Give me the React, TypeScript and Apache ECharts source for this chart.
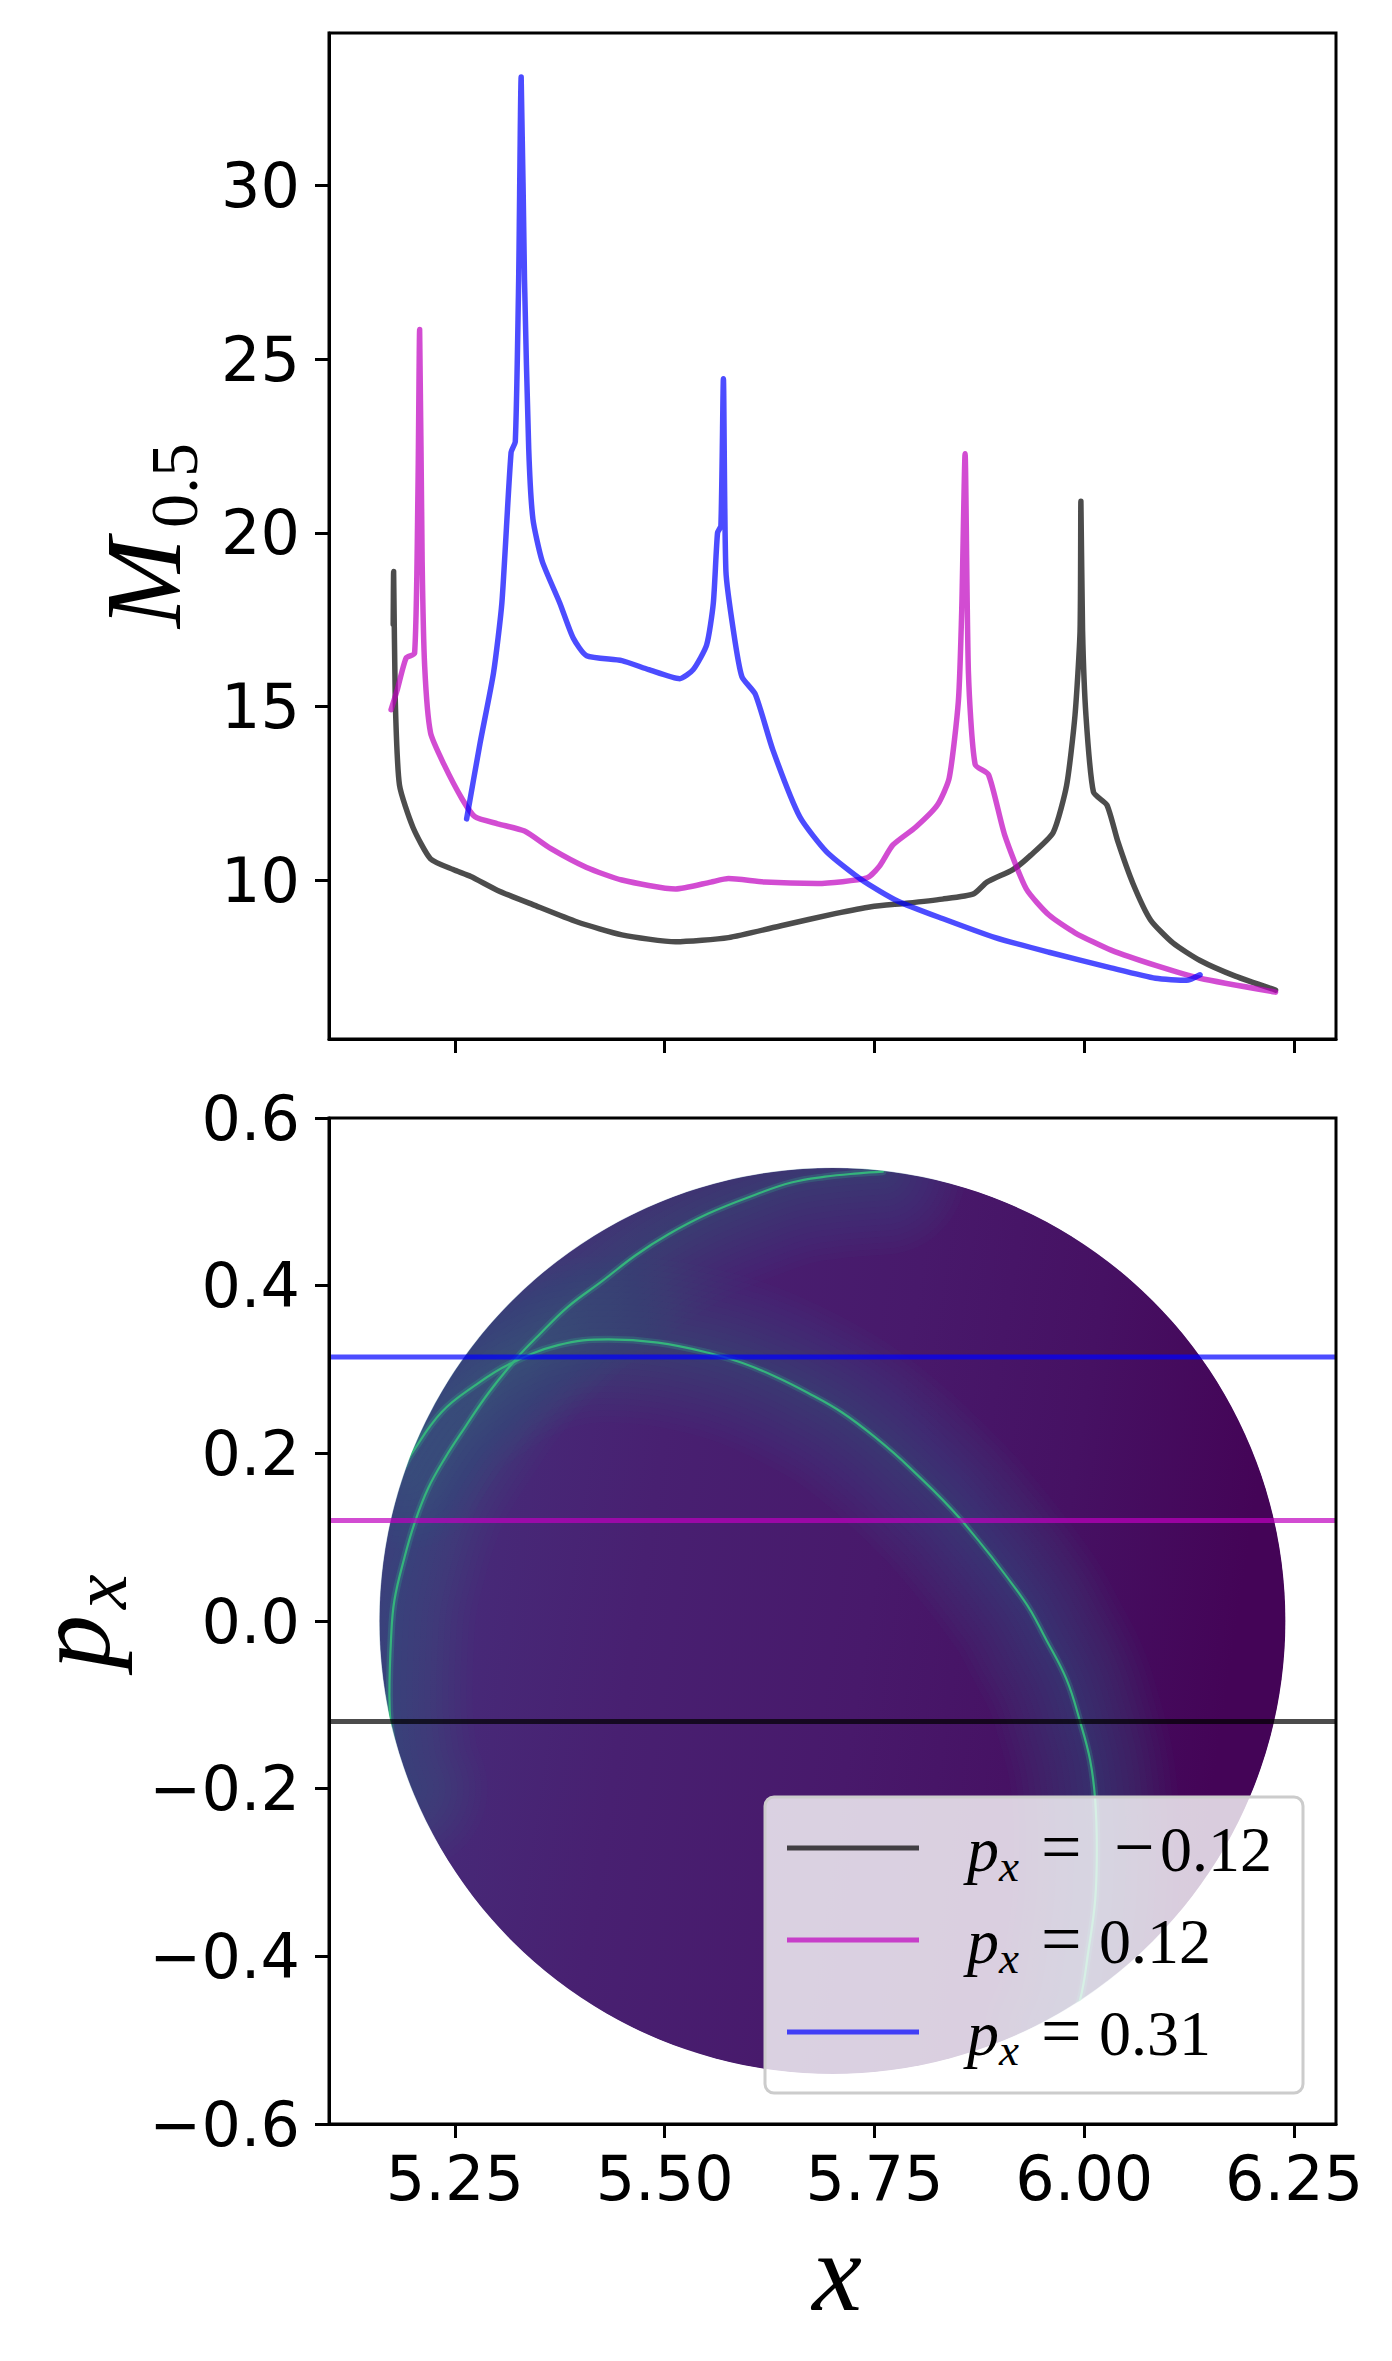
import React, { useEffect, useRef } from 'react';
import * as echarts from 'echarts';

const W = 1392;
const H = 2361;

// ---------- axes ----------
const xRange = [5.1, 6.3];
const topYRange = [5.42, 34.4];
const bottomYRange = [-0.6, 0.6];
const xTicks = [5.25, 5.5, 5.75, 6.0, 6.25];
const topYTicks = [10, 15, 20, 25, 30];
const bottomYTicks = [-0.6, -0.4, -0.2, 0.0, 0.2, 0.4, 0.6];

// ---------- top panel: M_0.5 along x for three p_x cuts ----------
const curveBlack = [
  [5.1765, 17.37], [5.177, 18.89], [5.179, 15.15], [5.184, 12.73], [5.2, 11.52], [5.221, 10.61],
  [5.248, 10.3], [5.269, 10.1], [5.301, 9.7], [5.343, 9.29], [5.396, 8.79], [5.449, 8.42],
  [5.513, 8.22], [5.576, 8.34], [5.64, 8.69], [5.703, 9.03], [5.746, 9.23], [5.788, 9.33],
  [5.831, 9.45], [5.868, 9.6], [5.884, 9.94], [5.915, 10.3], [5.936, 10.71], [5.963, 11.37],
  [5.979, 12.73], [5.989, 14.75], [5.995, 17.17], [5.996, 20.91], [5.998, 17.17], [6.002, 14.75],
  [6.011, 12.53], [6.027, 12.16], [6.04, 11.11], [6.058, 9.9], [6.079, 8.85], [6.106, 8.18],
  [6.138, 7.68], [6.18, 7.23], [6.228, 6.83],
];
const curveMagenta = [
  [5.174, 14.91], [5.181, 15.45], [5.192, 16.4], [5.202, 16.53], [5.206, 21.21], [5.208, 25.86],
  [5.211, 19.19], [5.214, 16.16], [5.221, 14.24], [5.237, 13.33], [5.259, 12.32], [5.274, 11.82],
  [5.301, 11.62], [5.333, 11.41], [5.364, 10.91], [5.407, 10.36], [5.449, 10.0], [5.513, 9.74],
  [5.555, 9.94], [5.576, 10.04], [5.619, 9.94], [5.682, 9.9], [5.741, 10.06], [5.756, 10.4],
  [5.772, 11.01], [5.799, 11.52], [5.825, 12.16], [5.839, 12.93], [5.85, 15.15], [5.854, 17.78],
  [5.858, 22.28], [5.862, 15.96], [5.87, 13.33], [5.886, 13.03], [5.905, 11.31], [5.931, 9.74],
  [5.958, 8.99], [5.989, 8.48], [6.032, 7.98], [6.085, 7.54], [6.138, 7.17], [6.228, 6.77],
];
const curveBlue = [
  [5.264, 11.76], [5.28, 13.94], [5.296, 15.96], [5.306, 17.98], [5.317, 22.32], [5.322, 22.63],
  [5.326, 27.27], [5.329, 33.13], [5.333, 27.27], [5.338, 22.42], [5.343, 20.4], [5.354, 19.19],
  [5.375, 17.98], [5.391, 16.97], [5.407, 16.46], [5.449, 16.32], [5.481, 16.06], [5.518, 15.8],
  [5.534, 16.06], [5.55, 16.77], [5.558, 17.98], [5.563, 20.0], [5.567, 20.2], [5.57, 24.44],
  [5.573, 18.89], [5.582, 17.17], [5.592, 15.86], [5.608, 15.35], [5.629, 13.74], [5.661, 11.82],
  [5.693, 10.81], [5.735, 10.0], [5.778, 9.39], [5.831, 8.89], [5.894, 8.34], [5.958, 7.92],
  [6.032, 7.47], [6.085, 7.17], [6.122, 7.11], [6.138, 7.27],
];

// ---------- bottom panel ----------
const pxLevels = [-0.12, 0.12, 0.315];
const legendLabels = ['−0.12', '0.12', '0.31'];
const seriesNames = ['p_x = -0.12', 'p_x = 0.12', 'p_x = 0.31'];
const lineColors = ['rgba(0,0,0,0.7)', 'rgba(191,0,191,0.7)', 'rgba(0,0,255,0.7)'];

// disc: centre x, centre p_x, radius
const disc = [5.7, 0.0, 0.54];

// bright caustic arcs
const causticA = [
  [5.19, -0.2], [5.178, -0.162], [5.172, -0.089], [5.174, -0.02], [5.178, 0.025], [5.19, 0.076],
  [5.202, 0.117], [5.218, 0.158], [5.238, 0.194], [5.262, 0.231], [5.29, 0.272], [5.325, 0.315],
  [5.349, 0.34], [5.385, 0.375], [5.425, 0.405], [5.465, 0.436], [5.504, 0.461], [5.552, 0.486],
  [5.604, 0.507], [5.651, 0.523], [5.691, 0.53], [5.731, 0.534], [5.76, 0.536],
];
const causticB = [
  [5.19, 0.185], [5.198, 0.199], [5.234, 0.249], [5.274, 0.281], [5.314, 0.306], [5.373, 0.329],
  [5.433, 0.336], [5.492, 0.332], [5.552, 0.32], [5.592, 0.308], [5.631, 0.292], [5.671, 0.272],
  [5.711, 0.249], [5.751, 0.219], [5.792, 0.183], [5.853, 0.121], [5.928, 0.025], [5.955, -0.023],
  [5.979, -0.07], [5.995, -0.12], [6.007, -0.166], [6.013, -0.213], [6.015, -0.273], [6.013, -0.333],
  [6.005, -0.393], [5.995, -0.452], [5.98, -0.49],
];

const mathFont = '"Liberation Serif", "DejaVu Serif", serif';
const tickFont = 'DejaVu Sans';

function mtext(text: string, x: number, baseline: number, size: number, italic: boolean, align = 'left') {
  return {
    type: 'text',
    x,
    y: baseline - 0.3375 * size,
    z: 100,
    silent: true,
    style: {
      text,
      font: `${italic ? 'italic ' : ''}${size}px ${mathFont}`,
      fill: '#000',
      textAlign: align,
      align,
      textVerticalAlign: 'middle',
      verticalAlign: 'middle',
    },
  };
}

function buildOption() {
  const axisCommon = {
    type: 'value',
    z: 50,
    axisLine: { show: true, onZero: false, lineStyle: { color: '#000', width: 3 } },
    splitLine: { show: false },
  };
  const tickStyle = { show: true, length: 14, inside: false, lineStyle: { color: '#000', width: 3 } };
  const labelStyle = { color: '#000', fontSize: 62, fontFamily: tickFont };

  const series: any[] = [];

  // top curves
  [curveBlack, curveMagenta, curveBlue].forEach((c, i) => {
    series.push({
      type: 'line',
      name: 'top ' + seriesNames[i],
      xAxisIndex: 0,
      yAxisIndex: 0,
      data: c,
      symbol: 'none',
      smooth: 0.2,
      silent: true,
      z: 3 + i,
      lineStyle: { width: 5.5, color: lineColors[i], join: 'round', cap: 'round' },
    });
  });

  // disc
  series.push({
    type: 'custom',
    name: 'disc',
    xAxisIndex: 1,
    yAxisIndex: 1,
    silent: true,
    z: 1,
    data: [disc],
    renderItem: (params: any, api: any) => {
      const c = api.coord([api.value(0), api.value(1)]);
      const s = api.size([api.value(2), api.value(2)]);
      const r = (s[0] + s[1]) / 2;
      return {
        type: 'circle',
        shape: { cx: c[0], cy: c[1], r },
        style: {
          fill: new echarts.graphic.LinearGradient(0, 0, 1, 0.15, [
            { offset: 0, color: '#46327e' },
            { offset: 0.35, color: '#482071' },
            { offset: 0.6, color: '#48196b' },
            { offset: 0.8, color: '#461163' },
            { offset: 1, color: '#440457' },
          ]),
        },
      };
    },
  });

  // soft glows around caustics (many thin-alpha layers)
  const glowWidths = [166, 154, 142, 130, 118, 106, 94, 82, 70, 58, 46, 34, 22, 12];
  [causticA, causticB].forEach((arc, k) => {
    glowWidths.forEach((w, j) => {
      series.push({
        type: 'line',
        name: `glow${k}_${j}`,
        xAxisIndex: 1,
        yAxisIndex: 1,
        data: arc,
        symbol: 'none',
        smooth: 0.4,
        silent: true,
        z: 2,
        lineStyle: { width: w, color: 'rgba(52,110,150,0.036)', cap: 'round', join: 'round' },
      });
    });
    series.push({
      type: 'line',
      name: `halo${k}`,
      xAxisIndex: 1,
      yAxisIndex: 1,
      data: arc,
      symbol: 'none',
      smooth: 0.4,
      silent: true,
      z: 3,
      lineStyle: { width: 7, color: 'rgba(50,190,140,0.22)', cap: 'round', join: 'round' },
    });
    series.push({
      type: 'line',
      name: `caustic${k}`,
      xAxisIndex: 1,
      yAxisIndex: 1,
      data: arc,
      symbol: 'none',
      smooth: 0.4,
      silent: true,
      z: 3,
      lineStyle: { width: 2.2, color: '#35b47c', cap: 'round', join: 'round' },
    });
  });

  // white mask outside the disc (keyhole polygon), reaching past the plot frame
  series.push({
    type: 'custom',
    name: 'mask',
    xAxisIndex: 1,
    yAxisIndex: 1,
    silent: true,
    z: 4,
    data: [disc],
    renderItem: (params: any, api: any) => {
      const c = api.coord([api.value(0), api.value(1)]);
      const s = api.size([api.value(2), api.value(2)]);
      const r = (s[0] + s[1]) / 2 + 0.4;
      const tl = api.coord([xRange[0], bottomYRange[1]]);
      const br = api.coord([xRange[1], bottomYRange[0]]);
      const pad = 90;
      const x0 = tl[0] - pad, y0 = tl[1] - pad, x1 = br[0] + pad, y1 = br[1] + pad;
      const pts: number[][] = [[x1, y0], [x1, y1], [x0, y1], [x0, y0], [x1, y0]];
      const start = -Math.PI / 4;
      const n = 400;
      for (let k = 0; k <= n; k++) {
        const t = start - (k * 2 * Math.PI) / n;
        pts.push([c[0] + r * Math.cos(t), c[1] + r * Math.sin(t)]);
      }
      return { type: 'polygon', shape: { points: pts }, style: { fill: '#ffffff' } };
    },
  });

  // horizontal cuts
  pxLevels.forEach((lvl, i) => {
    series.push({
      type: 'line',
      name: seriesNames[i],
      xAxisIndex: 1,
      yAxisIndex: 1,
      data: [[xRange[0], lvl], [xRange[1], lvl]],
      symbol: 'none',
      silent: true,
      z: 6,
      lineStyle: { width: 5, color: lineColors[i] },
    });
  });

  // graphic: frames, axis titles, legend
  const elements: any[] = [];
  const frames = [
    { x: 329, y: 33, width: 1007, height: 1006 },
    { x: 329, y: 1118, width: 1007, height: 1006 },
  ];
  frames.forEach((f) => {
    elements.push({
      type: 'rect',
      z: 100,
      silent: true,
      shape: f,
      style: { fill: 'none', stroke: '#000', lineWidth: 3 },
    });
  });

  // y title top: M_{0.5}
  elements.push({
    type: 'group',
    x: 180,
    y: 628,
    rotation: Math.PI / 2,
    z: 100,
    children: [
      mtext('M', 0, 0, 108, true),
      mtext('0.5', 100, 17, 68, false),
    ],
  });
  // y title bottom: p_x
  elements.push({
    type: 'group',
    x: 109,
    y: 1669,
    rotation: Math.PI / 2,
    z: 100,
    children: [
      mtext('p', 0, 0, 108, true),
      mtext('x', 60, 17, 78, true),
    ],
  });
  // x title
  elements.push(mtext('x', 837, 2310, 112, true, 'center'));

  // legend
  elements.push({
    type: 'rect',
    z: 100,
    silent: true,
    shape: { x: 765, y: 1797, width: 538, height: 296, r: 9 },
    style: { fill: 'rgba(255,255,255,0.8)', stroke: '#cccccc', lineWidth: 3 },
  });
  legendLabels.forEach((lab, i) => {
    const cy = 1848 + 92 * i;
    const yb = 1871 + 92 * i;
    elements.push({
      type: 'line',
      z: 101,
      silent: true,
      shape: { x1: 787, y1: cy, x2: 919, y2: cy },
      style: { stroke: lineColors[i], lineWidth: 5 },
    });
    elements.push(mtext('p', 967, yb, 64, true));
    elements.push(mtext('x', 999, yb + 10, 45, true));
    elements.push(mtext('=', 1041, yb, 72, false));
    if (lab.startsWith('−')) {
      elements.push(mtext('−', 1114, yb, 72, false));
      elements.push(mtext(lab.slice(1), 1160, yb, 64, false));
    } else {
      elements.push(mtext(lab, 1099, yb, 64, false));
    }
  });

  return {
    animation: false,
    backgroundColor: '#ffffff',
    grid: [
      { left: 329, top: 33, width: 1007, height: 1006, containLabel: false, outerBoundsMode: 'none' },
      { left: 329, top: 1118, width: 1007, height: 1006, containLabel: false, outerBoundsMode: 'none' },
    ],
    xAxis: [
      {
        ...axisCommon,
        gridIndex: 0,
        min: xRange[0],
        max: xRange[1],
        axisTick: { ...tickStyle, customValues: xTicks },
        axisLabel: { show: false, customValues: xTicks },
      },
      {
        ...axisCommon,
        gridIndex: 1,
        min: xRange[0],
        max: xRange[1],
        axisTick: { ...tickStyle, customValues: xTicks },
        axisLabel: {
          ...labelStyle,
          show: true,
          margin: 23,
          customValues: xTicks,
          formatter: (v: number) => v.toFixed(2),
        },
      },
    ],
    yAxis: [
      {
        ...axisCommon,
        gridIndex: 0,
        min: topYRange[0],
        max: topYRange[1],
        axisTick: { ...tickStyle, customValues: topYTicks },
        axisLabel: {
          ...labelStyle,
          show: true,
          margin: 29,
          customValues: topYTicks,
          formatter: (v: number) => String(Math.round(v)),
        },
      },
      {
        ...axisCommon,
        gridIndex: 1,
        min: bottomYRange[0],
        max: bottomYRange[1],
        axisTick: { ...tickStyle, customValues: bottomYTicks },
        axisLabel: {
          ...labelStyle,
          show: true,
          margin: 29,
          customValues: bottomYTicks,
          formatter: (v: number) => (Math.abs(v) < 1e-9 ? '0.0' : v.toFixed(1).replace('-', '−')),
        },
      },
    ],
    series,
    graphic: { elements },
  };
}

export default function App() {
  const ref = useRef<HTMLDivElement>(null);
  useEffect(() => {
    if (!ref.current) return;
    const chart = echarts.init(ref.current, null, { renderer: 'svg', width: W, height: H });
    chart.setOption(buildOption() as any);
    return () => chart.dispose();
  }, []);
  return (
    <div
      ref={ref}
      style={{ position: 'absolute', left: 0, top: 0, width: W, height: H, background: '#fff' }}
    />
  );
}
